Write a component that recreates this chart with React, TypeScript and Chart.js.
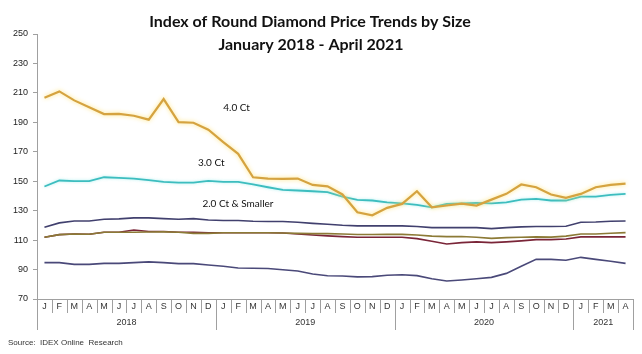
import React, { useEffect, useRef } from "react";
import { Chart, registerables } from "chart.js";

Chart.register(...registerables);

const titleLines = ["Index of Round Diamond Price Trends by Size", "January 2018 - April 2021"];
const sourceText = "Source:  IDEX Online  Research";

const months = [
  "J", "F", "M", "A", "M", "J", "J", "A", "S", "O", "N", "D",
  "J", "F", "M", "A", "M", "J", "J", "A", "S", "O", "N", "D",
  "J", "F", "M", "A", "M", "J", "J", "A", "S", "O", "N", "D",
  "J", "F", "M", "A",
];
const years = ["2018", "2019", "2020", "2021"];
const yearSpans = [12, 12, 12, 4];

const ct4 = [206.7, 211, 204.9, 200.3, 195.6, 195.8, 194.5, 191.8, 205.8, 190.1, 189.7, 185, 176.5, 168.6, 152.7, 151.8, 151.6, 151.8, 147.5, 146.5, 141, 128.9, 126.9, 131.9, 134.6, 143.2, 132.3, 133.5, 134.8, 133.5, 137.5, 141.4, 147.8, 145.9, 141, 138.7, 141.4, 145.9, 147.5, 148.4];
const ct3 = [146.4, 150.5, 150, 150, 152.7, 152.3, 151.8, 150.7, 149.6, 149.1, 149.1, 150.3, 149.6, 149.6, 147.8, 145.9, 144.1, 143.7, 143.2, 142.6, 139.6, 137.3, 136.9, 135.7, 135, 133.9, 132.3, 134.6, 135, 135.3, 135, 135.7, 137.5, 138, 136.9, 136.9, 139.6, 139.6, 140.7, 141.4];
const seriesA = [118.7, 121.7, 123, 123, 124.2, 124.4, 125.1, 125.1, 124.6, 124.2, 124.6, 123.7, 123.3, 123.3, 122.8, 122.6, 122.6, 122.1, 121.4, 120.8, 120.1, 119.7, 119.7, 119.7, 119.7, 119.2, 118.5, 118.5, 118.5, 118.5, 117.8, 118.5, 119, 119.2, 119.2, 119.4, 122.1, 122.3, 122.8, 123];
const seriesB = [111.9, 113.7, 114.2, 114, 115.3, 115.3, 115.3, 115.5, 115.6, 115.3, 114.6, 114.6, 115, 115, 115, 115, 114.8, 114.6, 114.4, 114.4, 114.2, 113.8, 113.8, 113.9, 113.9, 113.5, 112.7, 112.4, 112.5, 111.9, 111.2, 111.7, 111.9, 112.2, 112, 112.7, 114.2, 114.2, 114.7, 115.1];
const seriesC = [111.9, 113.7, 114.2, 114, 115.3, 115.3, 116.9, 115.8, 115.8, 115.3, 115.3, 115, 115, 115, 115, 115, 114.8, 114.2, 113.5, 112.9, 112.4, 111.9, 111.9, 111.9, 111.9, 111, 109.2, 107.4, 108.3, 108.8, 108.3, 108.8, 109.5, 110.3, 110.3, 110.8, 112.2, 112.2, 112.2, 112.2];
const seriesD = [94.7, 94.7, 93.5, 93.5, 94.2, 94.2, 94.7, 95.2, 94.7, 94, 94, 93.1, 92.2, 91.1, 90.9, 90.7, 89.9, 89, 87, 85.8, 85.6, 85, 85.2, 86.1, 86.5, 85.9, 83.8, 82.2, 82.9, 83.8, 84.7, 87.4, 92.2, 96.9, 96.9, 96.3, 98.3, 96.9, 95.6, 94.2];

const seriesLabels = ["4.0 Ct", "3.0 Ct", "2.0 Ct & Smaller"];

const W = 634;
const H = 346;

const glow = {
  id: "glow",
  beforeDatasetDraw(chart: any, args: any) {
    const ctx = chart.ctx;
    ctx.save();
    if (args.index === 0) {
      ctx.shadowColor = "rgba(255, 225, 110, 0.9)";
      ctx.shadowBlur = 4;
    } else if (args.index === 1) {
      ctx.shadowColor = "rgba(150, 235, 235, 0.8)";
      ctx.shadowBlur = 3;
    }
  },
  afterDatasetDraw(chart: any) {
    chart.ctx.restore();
  },
};

const annotations = {
  id: "annotations",
  afterDraw(chart: any) {
    const ctx = chart.ctx;
    const { left, right, bottom } = chart.chartArea;
    const xs = chart.scales.x;
    const ys = chart.scales.y;
    const n = months.length;
    const step = (right - left) / n;
    ctx.save();
    // title
    ctx.fillStyle = "#111";
    ctx.textAlign = "center";
    ctx.textBaseline = "middle";
    ctx.font = "bold 16px Lato, 'Open Sans', sans-serif";
    ctx.fillText(titleLines[0], 302, 14);
    ctx.fillText(titleLines[1], 303, 37);

    // x axis
    ctx.strokeStyle = "#a0a0a0";
    ctx.lineWidth = 1;
    ctx.beginPath();
    ctx.moveTo(left, bottom + 0.5);
    ctx.lineTo(right, bottom + 0.5);
    const yearBounds = new Set<number>();
    let acc = 0;
    yearBounds.add(0);
    yearSpans.forEach((s) => { acc += s; yearBounds.add(acc); });
    for (let i = 0; i <= n; i++) {
      const x = Math.round(xs.getPixelForValue(Math.min(i, n - 1)) + (i === n ? step / 2 : -step / 2)) + 0.5;
      ctx.moveTo(x, bottom);
      ctx.lineTo(x, bottom + (yearBounds.has(i) ? 31 : 14));
    }
    ctx.stroke();

    ctx.fillStyle = "#333";
    ctx.font = "9px 'Liberation Sans', Arial, sans-serif";
    months.forEach((m, i) => {
      ctx.fillText(m, xs.getPixelForValue(i), bottom + 8);
    });
    acc = 0;
    years.forEach((yr, k) => {
      const a = acc;
      const b = acc + yearSpans[k] - 1;
      const cx = (xs.getPixelForValue(a) + xs.getPixelForValue(b)) / 2;
      ctx.fillText(yr, cx, bottom + 24);
      acc += yearSpans[k];
    });

    // source
    ctx.textAlign = "left";
    ctx.font = "8px 'Liberation Sans', Arial, sans-serif";
    ctx.fillStyle = "#333";
    ctx.fillText(sourceText, 0, 335);

    // series labels
    ctx.fillStyle = "#111";
    ctx.font = "10px Lato, 'Open Sans', sans-serif";
    ctx.fillText(seriesLabels[0], xs.getPixelForValue(12), ys.getPixelForValue(200));
    ctx.fillText(seriesLabels[1], xs.getPixelForValue(10.3), ys.getPixelForValue(162.5));
    ctx.fillText(seriesLabels[2], xs.getPixelForValue(10.6), ys.getPixelForValue(134.5));
    ctx.restore();
  },
};

export default function App() {
  const ref = useRef<HTMLCanvasElement>(null);
  useEffect(() => {
    if (!ref.current) return;
    const mk = (data: number[], color: string, width: number) => ({
      data,
      borderColor: color,
      backgroundColor: color,
      borderWidth: width,
      pointRadius: 0,
      tension: 0,
      fill: false,
    });
    const chart = new Chart(ref.current, {
      type: "line",
      data: {
        labels: months,
        datasets: [
          { label: seriesLabels[0], ...mk(ct4, "#D5A340", 2.2) },
          { label: seriesLabels[1], ...mk(ct3, "#3DBDBF", 1.8) },
          { label: "a", ...mk(seriesA, "#41406E", 1.6) },
          { label: "b", ...mk(seriesB, "#8C7A36", 1.6) },
          { label: "c", ...mk(seriesC, "#7A2538", 1.6) },
          { label: "d", ...mk(seriesD, "#4A4979", 1.6) },
        ],
      },
      options: {
        responsive: false,
        animation: false,
        layout: { padding: { top: 26, bottom: 55, left: 0, right: 9 } },
        plugins: {
          legend: { display: false },
          tooltip: { enabled: false },
          title: { display: false },
        },
        scales: {
          x: { type: "category", display: false, offset: true },
          y: {
            min: 70,
            max: 250,
            ticks: {
              stepSize: 20,
              color: "#222",
              padding: 5,
              font: { size: 9, family: "'Liberation Sans', Arial, sans-serif" },
            },
            grid: { drawOnChartArea: false, drawTicks: true, tickLength: 4, color: "#a0a0a0" },
            border: { display: true, color: "#a0a0a0" },
            afterFit: (scale: any) => { scale.width = 29; },
          },
        },
      },
      plugins: [glow, annotations],
    });
    return () => chart.destroy();
  }, []);
  return (
    <div style={{ width: W, height: H }}>
      <canvas ref={ref} width={W} height={H} style={{ display: "block" }} />
    </div>
  );
}
